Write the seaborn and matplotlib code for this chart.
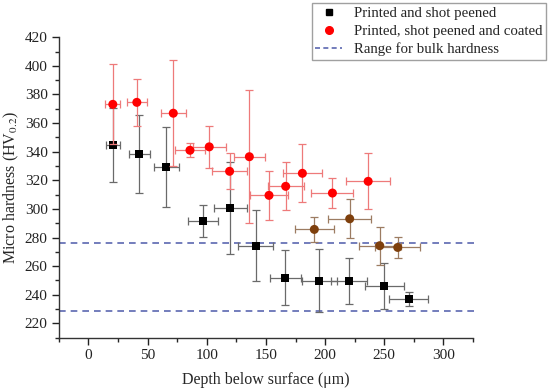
import matplotlib
matplotlib.use("Agg")
import matplotlib.pyplot as plt
import seaborn as sns
import pandas as pd
from matplotlib.lines import Line2D
from matplotlib.ticker import MultipleLocator

# ---- data ----
peened_depth = [20.6, 43.1, 65.7, 96.8, 119.9, 141.6, 166.4, 194.9, 220.6, 250.2, 270.5]
peened_hv = [344.5, 338.2, 329.5, 291.7, 300.6, 274.3, 251.9, 249.8, 249.6, 246.3, 236.8]
peened_hv_err = [26, 27.3, 28, 11.4, 32.4, 25, 19.2, 22, 16, 16, 4.8]
peened_depth_err = [6, 9, 10.6, 12.5, 14, 14.8, 13.3, 14.8, 15.2, 16.2, 16.5]

coated_depth = [20.6, 40.9, 71.7, 85.8, 102.1, 119.3, 136.0, 152.6, 166.7, 180.8,
                206.2, 236.4, 190.9, 220.8, 246.2, 261.4]
coated_hv = [373.1, 374.5, 366.9, 341.0, 343.4, 326.3, 336.5, 309.5, 315.8, 324.9,
             311.1, 319.3, 285.7, 293.1, 274.3, 273.1]
coated_hv_err = [28, 16.3, 37, 5, 14.8, 12.5, 46.4, 17, 16.8, 20.3,
                 10.5, 19.5, 8.7, 13.6, 13.4, 7.1]
coated_depth_err = [6.3, 8.5, 10.6, 12.3, 13.8, 14.8, 13.1, 15.8, 15.2, 16.5,
                    17.8, 18.8, 16.6, 18, 17.8, 19]

bulk_range = [229, 276.5]

legend_labels = ["Printed and shot peened", "Printed, shot peened and coated",
                 "Range for bulk hardness"]
x_label = "Depth below surface (\u03bcm)"
y_label = "Micro hardness (HV$_{0.2}$)"

# ---- style ----
sns.set_theme(style="ticks")
plt.rcParams["font.family"] = ["Liberation Serif", "DejaVu Serif"]
plt.rcParams["mathtext.fontset"] = "stix"

df_p = pd.DataFrame({"depth": peened_depth, "hv": peened_hv})
df_c = pd.DataFrame({"depth": coated_depth, "hv": coated_hv})

fig = plt.figure(figsize=(5.5, 3.92), dpi=100)
ax = fig.add_axes([0.107, 0.1385, 0.753, 0.7665])

line_col = "#5b67b0"
for yv in bulk_range:
    ax.axhline(yv, xmin=0, xmax=1.015, color=line_col, ls=(0, (4, 3)), lw=1.2,
               clip_on=False, zorder=1)

# peened series
ax.errorbar(peened_depth, peened_hv, yerr=peened_hv_err, xerr=peened_depth_err,
            fmt="none", ecolor="#6a6a6a", elinewidth=0.9, capsize=3, capthick=0.9,
            zorder=2)
sns.scatterplot(data=df_p, x="depth", y="hv", marker="s", color="black", s=30,
                edgecolor="black", linewidth=0, ax=ax, zorder=3, legend=False)

# coated series
n_bright = 12
err_cols = ["#ee7a7a"] * n_bright + ["#9c7c62"] * (len(coated_depth) - n_bright)
face_cols = ["#ff0000"] * n_bright + ["#7e3f0c"] * (len(coated_depth) - n_bright)
for i in range(len(coated_depth)):
    ax.errorbar(coated_depth[i], coated_hv[i], yerr=coated_hv_err[i],
                xerr=coated_depth_err[i], fmt="none", ecolor=err_cols[i],
                elinewidth=0.9, capsize=3, capthick=0.9, zorder=4)
sns.scatterplot(data=df_c, x="depth", y="hv", marker="o", c=face_cols, s=42,
                linewidth=0, ax=ax, zorder=5, legend=False)

ax.set_xlim(-25, 325)
ax.set_ylim(210, 420)
ax.xaxis.set_major_locator(MultipleLocator(50))
ax.xaxis.set_minor_locator(MultipleLocator(25))
ax.yaxis.set_major_locator(MultipleLocator(20))
ax.yaxis.set_minor_locator(MultipleLocator(10))
ax.set_xticks([0, 50, 100, 150, 200, 250, 300])
ax.tick_params(axis="both", which="major", direction="out", length=5, width=1,
               labelsize=11, colors="#222222", pad=3)
ax.tick_params(axis="both", which="minor", direction="out", length=3, width=1)
for s in ["top", "right"]:
    ax.spines[s].set_visible(False)
for s in ["left", "bottom"]:
    ax.spines[s].set_linewidth(1)
    ax.spines[s].set_color("#333333")

ax.set_xlabel(x_label, fontsize=11.5, labelpad=7)
ax.set_ylabel(y_label, fontsize=11.5, labelpad=3)

handles = [
    Line2D([], [], marker="s", color="black", ls="none", markersize=4),
    Line2D([], [], marker="o", color="#ff0000", ls="none", markersize=5.5),
    Line2D([], [], color=line_col, ls=(0, (3, 2)), lw=1.2),
]
leg = fig.legend(handles, legend_labels, loc="upper right",
                 bbox_to_anchor=(0.993, 0.993), fontsize=10.7, frameon=True,
                 fancybox=False, edgecolor="#888888", handlelength=1.8,
                 borderpad=0.25, labelspacing=0.3, handletextpad=0.8,
                 borderaxespad=0)
leg.get_frame().set_linewidth(1)

fig.savefig("out.png", dpi=100)
